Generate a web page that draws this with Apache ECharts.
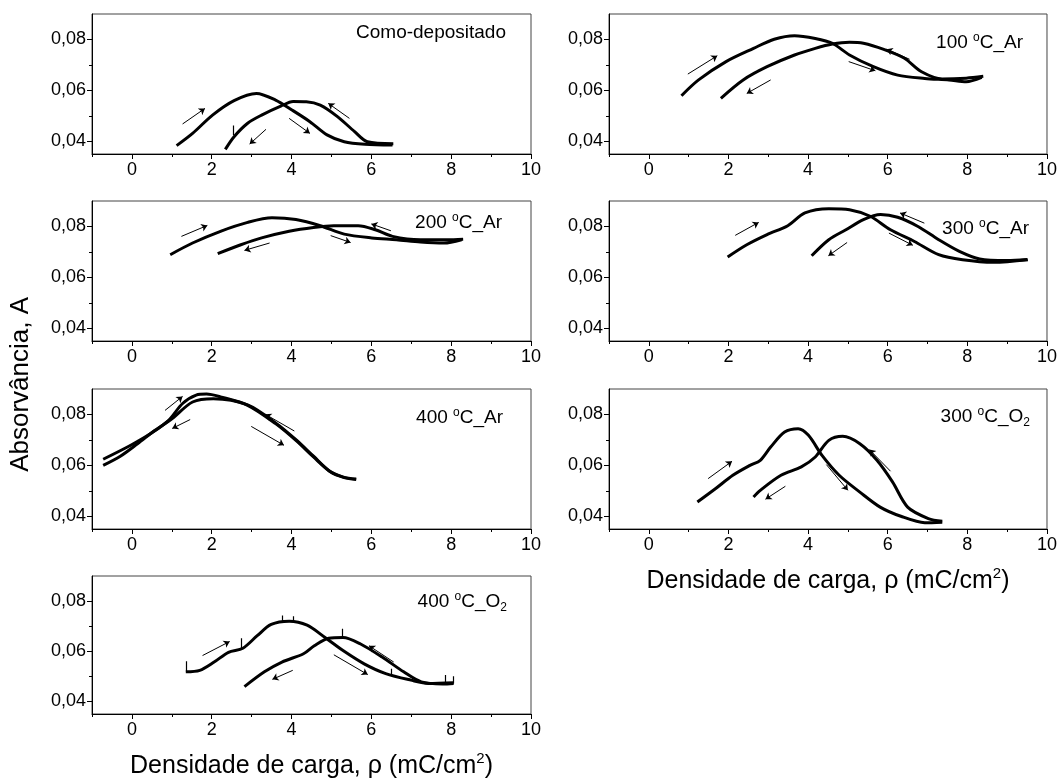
<!DOCTYPE html>
<html>
<head>
<meta charset="utf-8">
<script src="https://cdn.jsdelivr.net/npm/echarts@6/dist/echarts.min.js"></script>
<style>html,body{margin:0;padding:0;background:#fff}#c{width:1060px;height:782px}</style>
</head>
<body>
<div id="c"></div>
<script>
// ---------- tick labels ----------
const xMajorTicks = [0, 2, 4, 6, 8, 10];
const xMinorTicks = [-1, 1, 3, 5, 7, 9];
const yMajorTicks = [0.04, 0.06, 0.08];
const yMinorTicks = [0.05, 0.07];

// ---------- panel labels ----------
const panelLabels = [
  '{t|Como-depositado}',
  '{t|100 }{sup|o}{t|C_Ar}',
  '{t|200 }{sup|o}{t|C_Ar}',
  '{t|300 }{sup|o}{t|C_Ar}',
  '{t|400 }{sup|o}{t|C_Ar}',
  '{t|300 }{sup|o}{t|C_O}{sub|2}',
  '{t|400 }{sup|o}{t|C_O}{sub|2}'
];

// ---------- data: [charge density, absorbance] ----------
// Como-depositado
const comoFwd = [[1.12,0.0383],[1.52,0.0431],[2.02,0.0503],[2.56,0.0560],[3.12,0.0588],[3.6,0.0562],[4.01,0.0523],[4.46,0.0477],[4.89,0.0425],[5.32,0.0398],[5.84,0.0388],[6.53,0.0385]];
const comoRet = [[6.55,0.0390],[5.9,0.0398],[5.58,0.0438],[5.15,0.0497],[4.72,0.0542],[4.37,0.0555],[4.04,0.0556],[3.73,0.0538],[3.25,0.0503],[2.9,0.0471],[2.56,0.0418],[2.34,0.0368]];
const comoSpikes = [[[2.55,0.0425],[2.55,0.0462]]];
const comoArrows = [[[1.27,0.0468],[1.83,0.0529]],[[3.94,0.0490],[4.46,0.0431]],[[5.45,0.0490],[4.92,0.0549]],[[3.36,0.0447],[2.95,0.0389]]];

// 100 °C_Ar
const ar100Fwd = [[0.82,0.0579],[1.25,0.0641],[1.94,0.0713],[2.63,0.0765],[3.15,0.0801],[3.66,0.0815],[4.18,0.0804],[4.61,0.0785],[5.04,0.0739],[5.64,0.0693],[6.25,0.0660],[6.93,0.0647],[7.54,0.0641],[7.97,0.0634],[8.36,0.0651]];
const ar100Ret = [[8.4,0.0655],[7.97,0.0648],[7.37,0.0645],[6.85,0.0673],[6.42,0.0726],[5.9,0.0761],[5.39,0.0785],[5.04,0.0789],[4.61,0.0782],[4.18,0.0765],[3.66,0.0739],[2.97,0.0693],[2.37,0.0641],[1.81,0.0569]];
const ar100Arrows = [[[0.98,0.0664],[1.72,0.0736]],[[5.02,0.0713],[5.69,0.0677]],[[6.55,0.0722],[5.97,0.0762]],[[3.06,0.0641],[2.46,0.0588]]];

// 200 °C_Ar
const ar200Fwd = [[0.96,0.0689],[1.52,0.0735],[2.22,0.0781],[2.9,0.0816],[3.51,0.0834],[4.11,0.0827],[4.72,0.0803],[5.32,0.0770],[6.01,0.0755],[6.63,0.0748],[7.23,0.0739],[7.82,0.0735],[8.26,0.0748]];
const ar200Ret = [[8.3,0.0750],[7.9,0.0748],[7.23,0.0748],[6.53,0.0761],[6.1,0.0787],[5.67,0.0803],[5.06,0.0803],[4.55,0.0796],[3.94,0.0781],[3.25,0.0755],[2.73,0.0728],[2.15,0.0693]];
const ar200Arrows = [[[1.24,0.0761],[1.89,0.0804]],[[4.98,0.0764],[5.48,0.0737]],[[6.49,0.0783],[6.0,0.0810]],[[3.45,0.0735],[2.82,0.0706]]];

// 300 °C_Ar
const ar300Fwd = [[1.98,0.0680],[2.46,0.0728],[2.97,0.0768],[3.49,0.0803],[3.92,0.0853],[4.52,0.0870],[5.04,0.0866],[5.56,0.0840],[6.07,0.0787],[6.67,0.0741],[7.28,0.0689],[7.88,0.0669],[8.66,0.0659],[9.52,0.0669]];
const ar300Ret = [[9.5,0.0670],[9.0,0.0666],[8.31,0.0672],[7.8,0.0702],[7.28,0.0748],[6.76,0.0800],[6.25,0.0836],[5.82,0.0847],[5.39,0.0827],[4.95,0.0787],[4.52,0.0748],[4.09,0.0685]];
const ar300Arrows = [[[2.17,0.0765],[2.76,0.0816]],[[6.03,0.0774],[6.63,0.0726]],[[6.92,0.0813],[6.31,0.0853]],[[4.98,0.0737],[4.51,0.0685]]];

// 400 °C_Ar
const ar400Fwd = [[-0.72,0.0624],[-0.03,0.0679],[0.49,0.0727],[0.92,0.0777],[1.27,0.0843],[1.61,0.0876],[1.87,0.0880],[2.22,0.0869],[2.9,0.0836],[3.6,0.0764],[4.11,0.0698],[4.55,0.0633],[4.98,0.0574],[5.32,0.0552],[5.62,0.0544]];
const ar400Ret = [[5.62,0.0546],[5.3,0.0554],[4.95,0.0578],[4.55,0.0636],[4.11,0.0701],[3.6,0.0767],[2.9,0.0838],[2.04,0.0862],[1.52,0.0849],[1.01,0.0784],[0.58,0.0738],[0.14,0.0685],[-0.29,0.0636],[-0.72,0.0600]];
const ar400Arrows = [[[0.83,0.0816],[1.27,0.0871]],[[1.46,0.0780],[1.01,0.0745]],[[2.99,0.0753],[3.81,0.0679]],[[4.07,0.0735],[3.34,0.0801]]];

// 300 °C_O2
const o300Fwd = [[1.22,0.0456],[1.68,0.0509],[2.11,0.0561],[2.54,0.0600],[2.8,0.0620],[3.06,0.0672],[3.41,0.0731],[3.75,0.0744],[4.01,0.0718],[4.35,0.0639],[4.78,0.0561],[5.3,0.0495],[5.81,0.0436],[6.33,0.0400],[6.93,0.0375],[7.37,0.0377]];
const o300Ret = [[7.37,0.0380],[7.02,0.0391],[6.5,0.0436],[6.12,0.0535],[5.73,0.0620],[5.3,0.0685],[4.87,0.0714],[4.52,0.0698],[4.18,0.0633],[3.83,0.0594],[3.32,0.0561],[2.8,0.0502],[2.63,0.0476]];
const o300Arrows = [[[1.49,0.0548],[2.09,0.0616]],[[4.46,0.0603],[5.0,0.0502]],[[6.07,0.0577],[5.54,0.0662]],[[3.43,0.0518],[2.93,0.0467]]];

// 400 °C_O2
const o400Fwd = [[1.35,0.0518],[1.7,0.0524],[2.06,0.0557],[2.42,0.0596],[2.78,0.0612],[3.14,0.0662],[3.49,0.0707],[3.94,0.0720],[4.39,0.0704],[4.84,0.0655],[5.29,0.0603],[5.82,0.0550],[6.36,0.0511],[6.99,0.0485],[7.43,0.0472],[8.06,0.0475]];
const o400Ret = [[8.06,0.0472],[7.79,0.0470],[7.25,0.0478],[6.81,0.0518],[6.27,0.0577],[5.73,0.0629],[5.29,0.0655],[4.93,0.0652],[4.57,0.0622],[4.3,0.0590],[3.76,0.0557],[3.32,0.0518],[2.82,0.0459]];
const o400Spikes = [[[1.35,0.0518],[1.35,0.0560]],[[2.73,0.0612],[2.73,0.0652]],[[3.77,0.0720],[3.77,0.0743]],[[4.04,0.0718],[4.04,0.0740]],[[5.27,0.0655],[5.27,0.0690]],[[6.5,0.0505],[6.5,0.0530]],[[7.84,0.0470],[7.84,0.0505]],[[8.06,0.0472],[8.06,0.0500]]];
const o400Arrows = [[[1.77,0.0583],[2.45,0.0639]],[[5.06,0.0586],[5.91,0.0507]],[[6.56,0.0557],[5.94,0.0622]],[[4.03,0.0524],[3.52,0.0488]]];

const panelFwd = [comoFwd, ar100Fwd, ar200Fwd, ar300Fwd, ar400Fwd, o300Fwd, o400Fwd];
const panelRet = [comoRet, ar100Ret, ar200Ret, ar300Ret, ar400Ret, o300Ret, o400Ret];
const panelArrows = [comoArrows, ar100Arrows, ar200Arrows, ar300Arrows, ar400Arrows, o300Arrows, o400Arrows];
const panelSpikes = [comoSpikes, [], [], [], [], [], o400Spikes];

// ---------- layout ----------
const FONT = 'Arial, "Liberation Sans", sans-serif';
const colLeft = [92, 609];
const colWidth = [439, 440];
const rowTop = [14, 201, 389, 576];
const panelH = 140;
const labelPos = [ // [right, top] (title has 5px padding)
  [549, 16], [32, 26], [553, 206], [26, 212], [552, 401], [25, 400], [548, 585]
];

const grids = [], xAxes = [], yAxes = [], series = [], titles = [];
for (let i = 0; i < 7; i++) {
  const col = i % 2, row = Math.floor(i / 2);
  grids.push({left: colLeft[col], top: rowTop[row], width: colWidth[col], height: panelH,
    show: true, borderColor: '#444', borderWidth: 1, backgroundColor: 'transparent'});
  const xName = (i === 5 || i === 6) ? '{a|Densidade de carga, ρ (mC/cm}{s|2}{a|)}' : '';
  xAxes.push({gridIndex: i, type: 'value', min: -1, max: 10, position: 'bottom',
    name: xName, nameLocation: 'middle', nameGap: 36,
    nameTextStyle: {rich: {
      a: {fontSize: 25, fontFamily: FONT, color: '#000', lineHeight: 32},
      s: {fontSize: 15, fontFamily: FONT, color: '#000', lineHeight: 32, padding: [0, 0, 15, 0]}
    }},
    axisLine: {onZero: false, lineStyle: {color: '#000', width: 1}},
    axisTick: {customValues: xMajorTicks, length: 5, lineStyle: {color: '#000'}},
    axisLabel: {customValues: xMajorTicks, color: '#000', fontSize: 18, fontFamily: FONT, margin: 7},
    splitLine: {show: false}});
  xAxes.push({gridIndex: i, type: 'value', min: -1, max: 10, position: 'bottom',
    axisLine: {show: false, onZero: false},
    axisTick: {customValues: xMinorTicks, length: 3, lineStyle: {color: '#000'}},
    axisLabel: {show: false}, splitLine: {show: false}});
  yAxes.push({gridIndex: i, type: 'value', min: 0.035, max: 0.09, position: 'left',
    axisLine: {onZero: false, lineStyle: {color: '#000', width: 1}},
    axisTick: {customValues: yMajorTicks, length: 5, lineStyle: {color: '#000'}},
    axisLabel: {customValues: yMajorTicks, color: '#000', fontSize: 18, fontFamily: FONT, margin: 6,
      formatter: v => v.toFixed(2).replace('.', ',')},
    splitLine: {show: false}});
  yAxes.push({gridIndex: i, type: 'value', min: 0.035, max: 0.09, position: 'left',
    axisLine: {show: false, onZero: false},
    axisTick: {customValues: yMinorTicks, length: 3, lineStyle: {color: '#000'}},
    axisLabel: {show: false}, splitLine: {show: false}});

  const lineCommon = {type: 'line', xAxisIndex: 2 * i, yAxisIndex: 2 * i, showSymbol: false,
    smooth: 0.3, lineStyle: {color: '#000', width: 3}, silent: true, animation: false};
  series.push(Object.assign({data: panelFwd[i]}, lineCommon));
  series.push(Object.assign({data: panelRet[i]}, lineCommon));
  series.push({type: 'lines', coordinateSystem: 'cartesian2d', xAxisIndex: 2 * i, yAxisIndex: 2 * i,
    data: panelArrows[i].map(c => ({coords: c})), symbol: ['none', 'arrow'], symbolSize: [0, 6],
    lineStyle: {color: '#000', width: 1, opacity: 1}, silent: true, animation: false});
  if (panelSpikes[i].length) {
    series.push({type: 'lines', coordinateSystem: 'cartesian2d', xAxisIndex: 2 * i, yAxisIndex: 2 * i,
      data: panelSpikes[i].map(c => ({coords: c})), symbol: 'none',
      lineStyle: {color: '#000', width: 1.2, opacity: 1}, silent: true, animation: false});
  }

  titles.push({text: panelLabels[i], right: labelPos[i][0], top: labelPos[i][1],
    textStyle: {rich: {
      t: {fontSize: 19, fontWeight: 'normal', fontFamily: FONT, color: '#000', lineHeight: 24},
      sup: {fontSize: 12, fontWeight: 'normal', fontFamily: FONT, color: '#000', lineHeight: 24, padding: [0, 0, 10, 0]},
      sub: {fontSize: 12, fontWeight: 'normal', fontFamily: FONT, color: '#000', lineHeight: 24, padding: [12, 0, 0, 0]}
    }}});
}

const chart = echarts.init(document.getElementById('c'), null, {renderer: 'canvas'});
chart.setOption({
  animation: false,
  backgroundColor: '#fff',
  title: titles,
  grid: grids,
  xAxis: xAxes,
  yAxis: yAxes,
  series: series,
  graphic: [{type: 'text', left: 8, top: 297, rotation: Math.PI / 2,
    style: {text: 'Absorvância, A', fontSize: 26, fontFamily: FONT, fill: '#000'}}]
});
</script>
</body>
</html>
